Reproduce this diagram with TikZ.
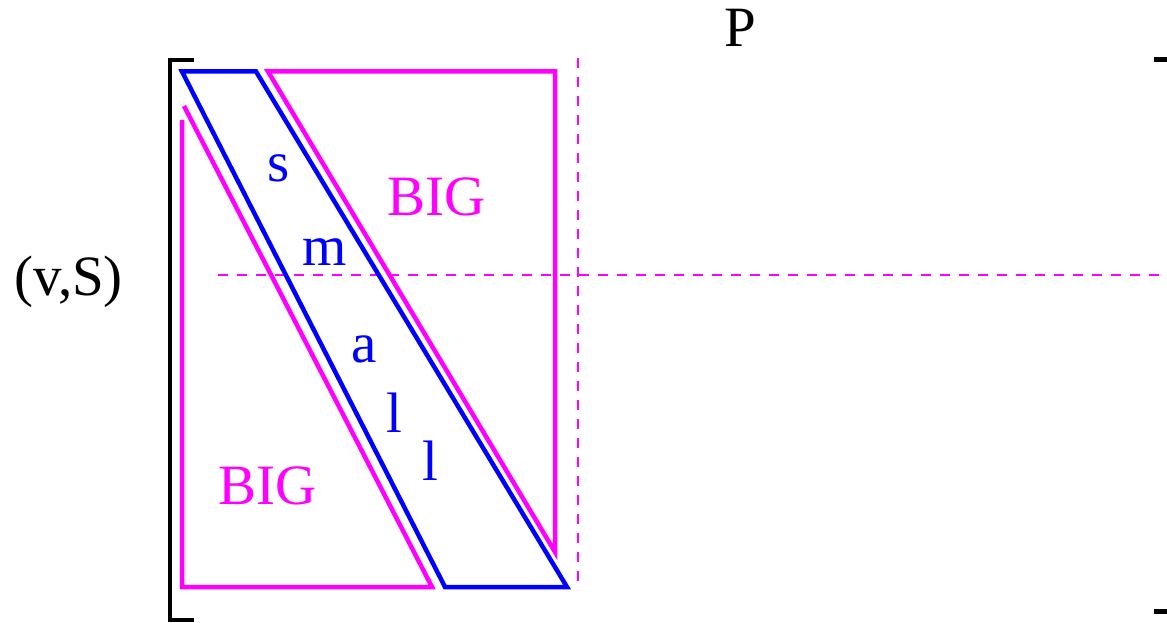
\documentclass[tikz,border=0pt]{standalone}
\usepackage{fontspec}
\setmainfont{Liberation Serif}
\definecolor{mag}{HTML}{FF00FF}
\definecolor{blu}{HTML}{0000FF}
\begin{document}
\begin{tikzpicture}[x=1pt,y=-1pt,
  bigtext/.style={font=\fontsize{57}{60}\selectfont,inner sep=0pt,anchor=base west},
  blueline/.style={draw=blu,line width=4.5pt},
  magline/.style={draw=mag,line width=4.5pt},
  blackline/.style={draw=black,line width=4.5pt},
  guide/.style={draw=mag,line width=1.2pt,dash pattern=on 10pt off 9pt}]
\useasboundingbox (0,0) rectangle (1167,623);
% bracket
\draw[blackline] (194,60) -- (170,60) -- (170,620) -- (194,620);
\draw[blackline] (1154,59.5) -- (1167,59.5);
\draw[blackline] (1154,611.5) -- (1167,611.5);
% guides
\draw[guide] (218,275) -- (1167,275);
\draw[guide] (578,58) -- (578,590);
% shapes
\draw[magline] (268,71.5) -- (555,71.5) -- (555,552) -- cycle;
\draw[magline] (182,120) -- (182,587) -- (432,587) -- (184,106);
\draw[blueline] (182,71.5) -- (256,71.5) -- (567,587) -- (445,587) -- cycle;
% texts
\node[bigtext] (P) at (724,47) {P};
\node[bigtext] (vS) at (14,295) {(v,S)};
\node[bigtext,text=mag] (big1) at (387,215) {BIG};
\node[bigtext,text=mag] (big2) at (218,504) {BIG};
\node[bigtext,text=blu] (s) at (267,182) {s};
\node[bigtext,text=blu] (m) at (302,265) {m};
\node[bigtext,text=blu] (a) at (351,362) {a};
\node[bigtext,text=blu] (l1) at (386,432) {l};
\node[bigtext,text=blu] (l2) at (422,480) {l};
\end{tikzpicture}
\end{document}
